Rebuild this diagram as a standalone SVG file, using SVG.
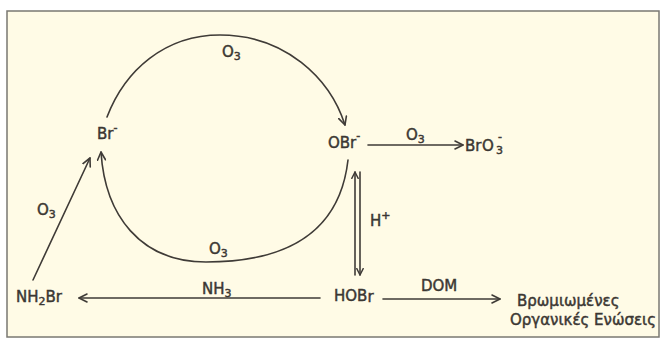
<svg xmlns="http://www.w3.org/2000/svg" width="660" height="341" viewBox="0 0 660 341">
<defs>
<style>
.bg{fill:#fffbe6;stroke:#7a7872;stroke-width:1.5}
.ln{fill:none;stroke:#3f3b37;stroke-width:1.6;stroke-linecap:round}
.arr{marker-end:url(#ah)}
text{font-family:"DejaVu Sans","Liberation Sans",sans-serif;font-size:15px;fill:#3b3733;stroke:#3b3733;stroke-width:0.45}
.s{font-size:11px}
</style>
<marker id="ah" viewBox="0 0 10 10" refX="9" refY="5" markerWidth="10" markerHeight="10" markerUnits="userSpaceOnUse" orient="auto">
<path d="M1,1 L9,5 L1,9" fill="none" stroke="#3f3b37" stroke-width="1.6" stroke-linecap="round" stroke-linejoin="round"/>
</marker>
<marker id="ahs" viewBox="0 0 10 10" refX="9" refY="5" markerWidth="8" markerHeight="8" markerUnits="userSpaceOnUse" orient="auto">
<path d="M1,1 L9,5 L1,9" fill="none" stroke="#3f3b37" stroke-width="1.8" stroke-linecap="round" stroke-linejoin="round"/>
</marker>
</defs>
<rect x="0" y="0" width="660" height="341" fill="#ffffff"/>
<rect class="bg" x="7" y="11" width="652" height="326"/>

<g id="connectors">
<path class="ln arr" d="M107,117 C125,70 165,35 220,35 C285,35 330,78 345,125"/>
<path class="ln arr" d="M348,160 C340,230 290,262 206,262 C140,262 105,215 101,152"/>
<path class="ln arr" d="M368,145 L463,145"/>
<path class="ln arr" d="M33,280 L90,158"/>
<path class="ln" d="M355,275 L355,172" marker-end="url(#ahs)"/>
<path class="ln" d="M360,172 L360,275" marker-end="url(#ahs)"/>
<path class="ln arr" d="M320,298 L79,298"/>
<path class="ln arr" d="M383,299 L500,299"/>
<text x="222" y="57">O<tspan class="s" dy="3">3</tspan></text>
<text x="209" y="254">O<tspan class="s" dy="3">3</tspan></text>
<text x="37" y="215">O<tspan class="s" dy="3">3</tspan></text>
<text x="406" y="140">O<tspan class="s" dy="3">3</tspan></text>
<text x="202" y="294">NH<tspan class="s" dy="3">3</tspan></text>
<text x="370" y="226">H<tspan class="s" dy="-7">+</tspan></text>
<text x="421" y="291">DOM</text>
</g>

<g id="node-br">
<text x="97" y="139">Br<tspan class="s" dy="-8">-</tspan></text>
</g>
<g id="node-obr">
<text x="328" y="148">OBr<tspan class="s" dy="-9">-</tspan></text>
</g>
<g id="node-bro3">
<text x="465" y="151">Br<tspan x="482">O</tspan><tspan class="s" x="496" dy="3">3</tspan><tspan class="s" x="498" dy="-14">-</tspan></text>
</g>
<g id="node-nh2br">
<text x="16" y="302">NH<tspan class="s" dy="3">2</tspan><tspan dy="-3">Br</tspan></text>
</g>
<g id="node-hobr">
<text x="334" y="301">HOB<tspan dy="1">r</tspan></text>
</g>
<g id="node-organic">
<text x="517" y="306">Βρωμιωμένες</text>
<text x="510" y="325">Οργανικές Ενώσεις</text>
</g>
</svg>
